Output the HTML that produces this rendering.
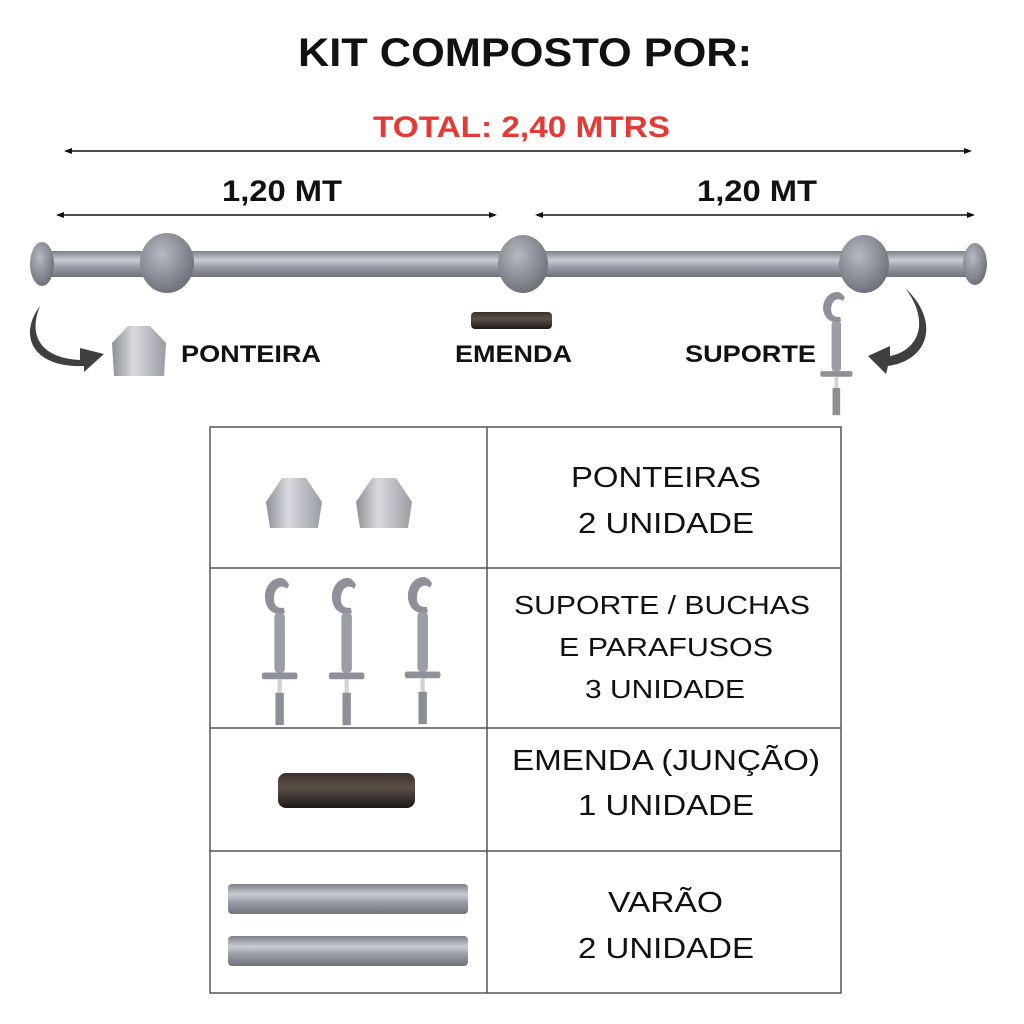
<!DOCTYPE html>
<html><head><meta charset="utf-8"><style>
html,body{margin:0;padding:0;background:#fff;}
svg{display:block;}
</style></head><body>
<svg width="1024" height="1024" viewBox="0 0 1024 1024" xmlns="http://www.w3.org/2000/svg" font-family="Liberation Sans, sans-serif">
<defs>
<linearGradient id="rod" x1="0" y1="0" x2="0" y2="1">
<stop offset="0" stop-color="#7d8089"/><stop offset="0.35" stop-color="#c9ccd3"/><stop offset="0.6" stop-color="#9a9ea8"/><stop offset="1" stop-color="#6f727b"/></linearGradient>
<radialGradient id="ball" cx="0.4" cy="0.35" r="0.7"><stop offset="0" stop-color="#b5b9c1"/><stop offset="1" stop-color="#6a6d76"/></radialGradient>
<linearGradient id="cap" x1="0" y1="0" x2="1" y2="0"><stop offset="0" stop-color="#8d9097"/><stop offset="0.4" stop-color="#d8dadf"/><stop offset="1" stop-color="#9a9ca3"/></linearGradient>
<linearGradient id="blk" x1="0" y1="0" x2="0" y2="1"><stop offset="0" stop-color="#3a302c"/><stop offset="0.4" stop-color="#5c504a"/><stop offset="1" stop-color="#1d1816"/></linearGradient>
<g id="hook">
<path d="M14 0 C0 0 -6 16 4 24 C8 27 14 27 18 26 L17 22 C10 23 6 19 8 12 C10 6 16 5 20 8 L22 5 C20 2 17 0 14 0Z" fill="#8e9199"/>
<rect x="8" y="26" width="10" height="44" rx="3" fill="#9b9ea5"/>
<rect x="-4" y="70" width="34" height="5" rx="2" fill="#8e9199"/>
<rect x="11" y="75" width="4" height="10" fill="#d0d2d6"/>
<rect x="9" y="85" width="8" height="24" fill="#8c8f96"/>
</g>
</defs>
<text x="298" y="66" font-size="40" font-weight="bold" fill="#111" textLength="454" lengthAdjust="spacingAndGlyphs">KIT COMPOSTO POR:</text>
<text x="373" y="137" font-size="30" font-weight="bold" fill="#e53935" textLength="297" lengthAdjust="spacingAndGlyphs">TOTAL: 2,40 MTRS</text>
<g stroke="#111" stroke-width="1.5" fill="#111">
<line x1="66" y1="151" x2="970" y2="151"/>
<path d="M64 151 l8 -3 v6z M972 151 l-8 -3 v6z" stroke="none"/>
<line x1="58" y1="215" x2="495" y2="215"/>
<path d="M56 215 l8 -3 v6z M497 215 l-8 -3 v6z" stroke="none"/>
<line x1="537" y1="215" x2="973" y2="215"/>
<path d="M535 215 l8 -3 v6z M975 215 l-8 -3 v6z" stroke="none"/>
</g>
<text x="222" y="201" font-size="30" font-weight="bold" fill="#111" textLength="120" lengthAdjust="spacingAndGlyphs">1,20 MT</text>
<text x="697" y="201" font-size="30" font-weight="bold" fill="#111" textLength="120" lengthAdjust="spacingAndGlyphs">1,20 MT</text>
<rect x="40" y="251" width="935" height="26" rx="6" fill="url(#rod)"/>
<ellipse cx="42" cy="264" rx="12" ry="22" fill="url(#ball)"/>
<ellipse cx="975" cy="264" rx="12" ry="21" fill="url(#ball)"/>
<ellipse cx="167" cy="263" rx="27" ry="30" fill="url(#ball)"/>
<ellipse cx="523" cy="264" rx="25" ry="29" fill="url(#ball)"/>
<ellipse cx="864" cy="264" rx="25" ry="29" fill="url(#ball)"/>
<path d="M40 306 C28 335 40 358 80 360 L80 348 L104 354 L84 372 L84 366 C32 368 18 335 40 306Z" fill="#3f3f3f"/>
<path d="M905 288 C930 320 920 350 890 356 L890 346 L868 356 L886 374 L888 366 C930 360 940 320 905 288Z" fill="#3f3f3f"/>
<path d="M112 343 L128 326 L150 326 L166 343 L164 376 L114 376Z" fill="url(#cap)"/>
<text x="181" y="362" font-size="24" font-weight="bold" fill="#111" textLength="140" lengthAdjust="spacingAndGlyphs">PONTEIRA</text>
<rect x="471" y="312" width="81" height="17" rx="4" fill="url(#blk)"/>
<text x="455" y="362" font-size="24" font-weight="bold" fill="#111" textLength="117" lengthAdjust="spacingAndGlyphs">EMENDA</text>
<text x="685" y="362" font-size="24" font-weight="bold" fill="#111" textLength="131" lengthAdjust="spacingAndGlyphs">SUPORTE</text>
<use href="#hook" transform="translate(824,292) scale(0.95,1.13)"/>
<g stroke="#555" stroke-width="1.5" fill="none">
<rect x="210" y="427" width="631" height="566"/>
<line x1="487" y1="427" x2="487" y2="993"/>
<line x1="210" y1="568" x2="841" y2="568"/>
<line x1="210" y1="728" x2="841" y2="728"/>
<line x1="210" y1="851" x2="841" y2="851"/>
</g>
<g font-size="29" fill="#111" lengthAdjust="spacingAndGlyphs">
<text x="571" y="487" textLength="190" lengthAdjust="spacingAndGlyphs">PONTEIRAS</text>
<text x="578" y="533" textLength="176" lengthAdjust="spacingAndGlyphs">2 UNIDADE</text>
<text x="514" y="614" font-size="26" textLength="296" lengthAdjust="spacingAndGlyphs">SUPORTE / BUCHAS</text>
<text x="559" y="656" font-size="26" textLength="214" lengthAdjust="spacingAndGlyphs">E PARAFUSOS</text>
<text x="585" y="698" font-size="26" textLength="160" lengthAdjust="spacingAndGlyphs">3 UNIDADE</text>
<text x="512" y="770" textLength="308" lengthAdjust="spacingAndGlyphs">EMENDA (JUNÇÃO)</text>
<text x="578" y="815" textLength="176" lengthAdjust="spacingAndGlyphs">1 UNIDADE</text>
<text x="608" y="912" textLength="115" lengthAdjust="spacingAndGlyphs">VARÃO</text>
<text x="578" y="958" textLength="176" lengthAdjust="spacingAndGlyphs">2 UNIDADE</text>
</g>
<path d="M266 502 L282 478 L306 478 L322 502 L318 528 L270 528Z" fill="url(#cap)"/>
<path d="M356 502 L372 478 L396 478 L412 502 L408 528 L360 528Z" fill="url(#cap)"/>
<use href="#hook" transform="translate(266,578) scale(1.05,1.35)"/>
<use href="#hook" transform="translate(333,578) scale(1.05,1.35)"/>
<use href="#hook" transform="translate(409,577) scale(1.05,1.35)"/>
<rect x="278" y="773" width="137" height="35" rx="8" fill="url(#blk)"/>
<rect x="228" y="884" width="240" height="30" rx="4" fill="url(#rod)"/>
<rect x="228" y="936" width="240" height="30" rx="4" fill="url(#rod)"/>
</svg>
</body></html>
